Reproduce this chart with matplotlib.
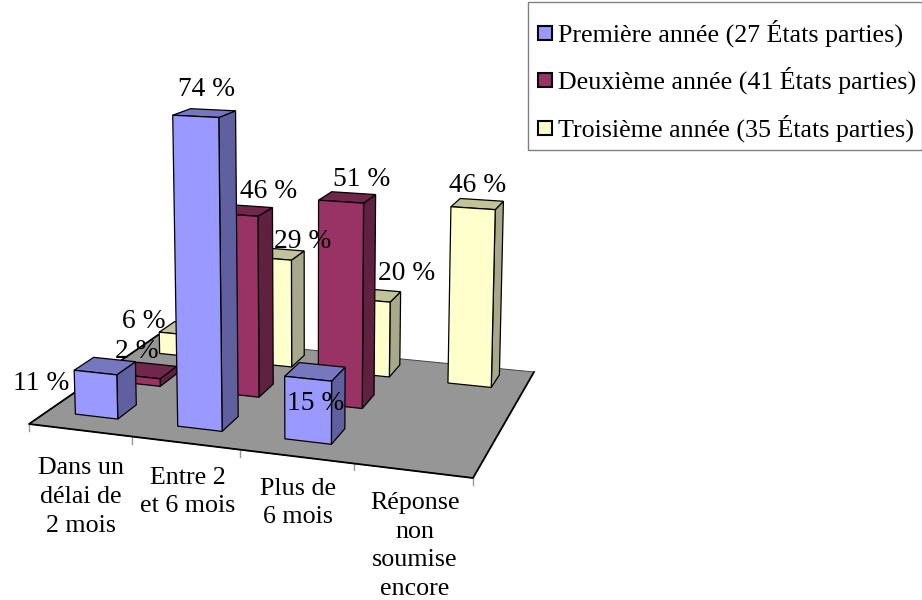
import matplotlib.pyplot as plt
from matplotlib.patches import Polygon, Rectangle
import numpy as np

plt.rcParams['font.family'] = ['Liberation Serif', 'DejaVu Serif']

categories = ["Dans un\ndélai de\n2 mois", "Entre 2\net 6 mois", "Plus de\n6 mois", "Réponse\nnon\nsoumise\nencore"]
series_names = ["Première année (27 États parties)",
                "Deuxième année (41 États parties)",
                "Troisième année (35 États parties)"]
first_year = [11, 74, 15, 0]
second_year = [2, 46, 51, 0]
third_year = [6, 29, 20, 46]
series_values = [first_year, second_year, third_year]

# front, top, side shades for each series
front_colors = ["#9999FF", "#993366", "#FFFFCC"]
top_colors = ["#7777BF", "#72264C", "#C2C29B"]
side_colors = ["#6060A0", "#602040", "#A8A88A"]

# label centres in figure pixels, same layout as series_values
label_xy = [[(41, 384), (207, 90), (316, 403), None],
            [(137, 352), (269, 192), (362, 180), None],
            [(144, 321), (303, 242), (407, 274), (478, 185)]]
category_xy = [(81, 497), (188, 492), (298, 503), (415, 546)]

# floor corners on screen: front-left, front-right, back-right, back-left
floor_corners = [(29, 424), (473, 478), (534, 372), (158, 335)]
vanish_x, vanish_y = 309, 8600
z_scale = -4.93e-4
bar_frac = 0.42
bar_shift = (-0.015, 0.09)
label_pt = 27.5 * 72 / 100
category_pt = 26 * 72 / 100
legend_pt = 26 * 72 / 100


def floor_homography(corners):
    src = [(0, 0), (4, 0), (4, 3), (0, 3)]
    A = []
    b = []
    for (u, v), (x, y) in zip(src, corners):
        A.append([u, v, 1, 0, 0, 0, -u * x, -v * x])
        A.append([0, 0, 0, u, v, 1, -u * y, -v * y])
        b += [x, y]
    h = np.linalg.solve(np.array(A, dtype=float), np.array(b, dtype=float))
    return np.append(h, 1).reshape(3, 3)


H = floor_homography(floor_corners)


def project(u, v, z):
    p = H @ np.array([u, v, 1.0]) + z * z_scale * np.array([vanish_x, vanish_y, 1.0])
    return p[0] / p[2], p[1] / p[2]


fig = plt.figure(figsize=(9.22, 6), dpi=100)
ax = fig.add_axes([0, 0, 1, 1])
ax.set_xlim(0, 922)
ax.set_ylim(600, 0)
ax.axis("off")

# floor
floor = [project(u, v, 0) for u, v in [(0, 0), (4, 0), (4, 3), (0, 3)]]
ax.add_patch(Polygon(floor, closed=True, facecolor="#969696", edgecolor="#444444", lw=0.7, zorder=1))
ax.plot(*zip(floor[3], floor[0], floor[1], floor[2]), color="black", lw=1.3, zorder=1.5)

for i in range(5):
    x0, y0 = project(i, 0, 0)
    ax.plot([x0, x0], [y0, y0 + 7], color="#999999", lw=1, zorder=1)

# bars, back row first
z = 2
for s in [2, 1, 0]:
    for c in range(4):
        val = series_values[s][c]
        if val == 0:
            continue
        u0 = c + 0.5 + bar_shift[0] - bar_frac / 2
        u1 = c + 0.5 + bar_shift[0] + bar_frac / 2
        v0 = s + 0.5 + bar_shift[1] - bar_frac / 2
        v1 = s + 0.5 + bar_shift[1] + bar_frac / 2
        front = [project(u0, v0, 0), project(u1, v0, 0), project(u1, v0, val), project(u0, v0, val)]
        side = [project(u1, v0, 0), project(u1, v1, 0), project(u1, v1, val), project(u1, v0, val)]
        top = [project(u0, v0, val), project(u1, v0, val), project(u1, v1, val), project(u0, v1, val)]
        ax.add_patch(Polygon(side, closed=True, facecolor=side_colors[s], edgecolor="black", lw=0.9, zorder=z))
        ax.add_patch(Polygon(top, closed=True, facecolor=top_colors[s], edgecolor="black", lw=0.9, zorder=z))
        ax.add_patch(Polygon(front, closed=True, facecolor=front_colors[s], edgecolor="black", lw=0.9, zorder=z))
        z += 1

# value labels sit above everything
for s in range(3):
    for c in range(4):
        if label_xy[s][c] is not None:
            ax.text(label_xy[s][c][0], label_xy[s][c][1], f"{series_values[s][c]} %", fontsize=label_pt,
                    ha="center", va="center", color="black", zorder=50)

for name, (x, y) in zip(categories, category_xy):
    ax.text(x, y, name, fontsize=category_pt, ha="center", va="center", linespacing=1.41, color="black", zorder=50)

# legend box
ax.add_patch(Rectangle((528, 2), 394, 148, facecolor="white", edgecolor="#808080", lw=1, zorder=60))
legend_y = [33, 80, 128]
for name, color, y in zip(series_names, front_colors, legend_y):
    ax.add_patch(Rectangle((538, y - 7), 14, 14, facecolor=color, edgecolor="black", lw=1.5, zorder=61))
    ax.text(558, y, name, fontsize=legend_pt, ha="left", va="center", color="black", zorder=61)

fig.savefig("out.png", dpi=100)
